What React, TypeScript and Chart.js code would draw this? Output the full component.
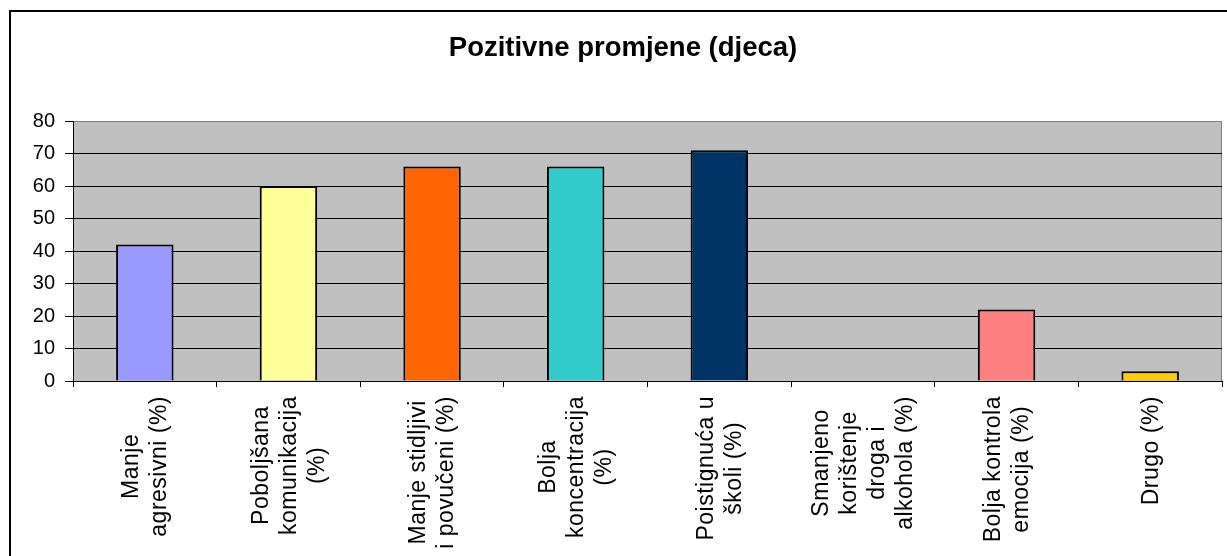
import React, { useEffect, useRef } from "react";
import { Chart, registerables } from "chart.js";

Chart.register(...registerables);

const categories: string[][] = [
  ["Manje", "agresivni (%)"],
  ["Poboljšana", "komunikacija", "(%)"],
  ["Manje stidljivi", "i povučeni (%)"],
  ["Bolja", "koncentracija", "(%)"],
  ["Poistignuća u", "školi (%)"],
  ["Smanjeno", "korištenje", "droga i", "alkohola (%)"],
  ["Bolja kontrola", "emocija (%)"],
  ["Drugo (%)"],
];
const values: number[] = [42, 60, 66, 66, 71, 0, 22, 3];
const barColors: string[] = ["#9999FF", "#FFFF99", "#FF6600", "#33CCCC", "#003366", "#993366", "#FF8080", "#FFCC00"];
const chartTitle = "Pozitivne promjene (djeca)";
const yMin = 0;
const yMax = 80;
const yStep = 10;

const FONT = 'Arial, "Liberation Sans", sans-serif';

export default function App() {
  const ref = useRef<HTMLCanvasElement>(null);
  useEffect(() => {
    document.body.style.margin = "0";
    const canvas = ref.current!;
    const frame = {
      id: "frame",
      beforeDraw(chart: any) {
        const { ctx, chartArea } = chart;
        ctx.save();
        ctx.fillStyle = "#ffffff";
        ctx.fillRect(0, 0, chart.width, chart.height);
        ctx.fillStyle = "#C0C0C0";
        ctx.fillRect(chartArea.left, chartArea.top, chartArea.right - chartArea.left, chartArea.bottom - chartArea.top);
        ctx.strokeStyle = "#808080";
        ctx.lineWidth = 1;
        ctx.strokeRect(chartArea.left + 0.5, chartArea.top + 0.5, chartArea.right - chartArea.left - 1, chartArea.bottom - chartArea.top);
        ctx.strokeStyle = "#000000";
        ctx.lineWidth = 2;
        ctx.strokeRect(10, 11, chart.width + 20, chart.height + 20);
        ctx.restore();
      },
      afterDraw(chart: any) {
        const { ctx } = chart;
        ctx.save();
        ctx.font = `bold 27.5px ${FONT}`;
        ctx.fillStyle = "#000";
        ctx.textAlign = "center";
        ctx.textBaseline = "middle";
        ctx.fillText(chartTitle, 623, 48);
        ctx.restore();
      },
    };
    const xLabels = {
      id: "xLabels",
      afterDraw(chart: any) {
        const { ctx } = chart;
        const xs = chart.scales.x;
        ctx.save();
        ctx.font = `23px ${FONT}`;
        (ctx as any).letterSpacing = "0.5px";
        ctx.fillStyle = "#000";
        ctx.textAlign = "center";
        ctx.textBaseline = "middle";
        const lh = 28;
        categories.forEach((lines, i) => {
          const x = xs.getPixelForValue(i);
          const w = Math.max(...lines.map((l) => ctx.measureText(l).width));
          const top = xs.top + 15;
          ctx.save();
          ctx.translate(x, top + w / 2);
          ctx.rotate(-Math.PI / 2);
          lines.forEach((l, j) => {
            ctx.fillText(l, 0, (j - (lines.length - 1) / 2) * lh + 1);
          });
          ctx.restore();
        });
        ctx.restore();
      },
    };
    const chart = new Chart(canvas, {
      type: "bar",
      data: {
        labels: categories.map((c) => c.join(" ")),
        datasets: [
          {
            data: values,
            backgroundColor: barColors,
            borderColor: "#000000",
            borderWidth: 2,
            barPercentage: 0.4,
            categoryPercentage: 1,
          },
        ],
      },
      options: {
        animation: false,
        responsive: false,
        maintainAspectRatio: false,
        layout: { padding: { left: 0, right: 5, top: 121, bottom: 0 } },
        plugins: {
          legend: { display: false },
          tooltip: { enabled: false },
          title: { display: false },
        },
        scales: {
          x: {
            afterFit(scale: any) {
              scale.height = 175;
            },
            ticks: { display: false },
            grid: {
              offset: true,
              drawOnChartArea: false,
              drawTicks: true,
              tickLength: 6,
              color: "#000",
            },
            border: { display: true, color: "#000", width: 1 },
          },
          y: {
            min: yMin,
            max: yMax,
            afterFit(scale: any) {
              scale.width = 73;
            },
            ticks: {
              stepSize: yStep,
              color: "#000",
              padding: 10,
              font: { family: FONT, size: 20 },
            },
            grid: {
              color: (c: any) => (c.tick && c.tick.value === yMax ? "#808080" : "#000000"),
              tickColor: "#000000",
              tickLength: 8,
              lineWidth: 1,
            },
            border: { display: true, color: "#000", width: 1 },
          },
        },
      },
      plugins: [frame, xLabels],
    });
    return () => chart.destroy();
  }, []);
  return (
    <div style={{ width: 1227, height: 556, position: "relative" }}>
      <canvas ref={ref} width={1227} height={556} style={{ display: "block" }} />
    </div>
  );
}
